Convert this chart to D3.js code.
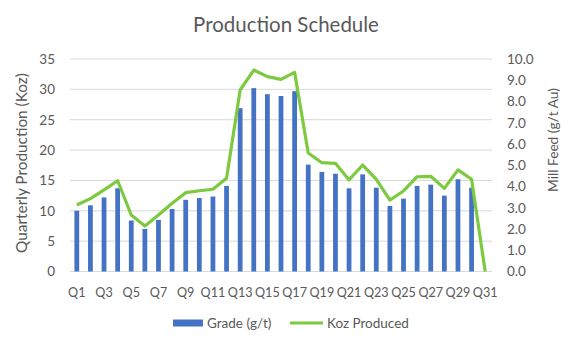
<!DOCTYPE html>
<html><head><meta charset="utf-8">
<script src="https://cdn.jsdelivr.net/npm/d3@7"></script>
<style>body{margin:0;background:#fff}svg{display:block}text{font-family:Lato,"Open Sans",sans-serif;fill:#595959}</style>
</head><body><svg id="c" width="580" height="340"></svg>
<script>
const categories = d3.range(1,32).map(i=>"Q"+i);
const grade = [10.0,10.9,12.2,13.7,8.4,7.0,8.5,10.3,11.8,12.1,12.35,14.1,26.9,30.2,29.2,28.9,29.7,17.6,16.4,16.1,13.7,16.0,13.8,10.8,12.0,14.1,14.3,12.5,15.2,13.8,0];
const kozProduced = [3.13,3.43,3.84,4.27,2.66,2.14,2.66,3.21,3.71,3.80,3.87,4.39,8.54,9.48,9.17,9.04,9.37,5.58,5.12,5.09,4.31,5.01,4.34,3.36,3.79,4.46,4.48,3.91,4.78,4.34,0];
const leftTicks = [0,5,10,15,20,25,30,35];
const rightTicks = [0,1,2,3,4,5,6,7,8,9,10];

const svg = d3.select("#c");
const m = {l:70, r:492, t:59, b:271.5};
const x = d3.scaleBand().domain(categories).range([m.l,m.r]).paddingInner(0.65).paddingOuter(0.325);
const yL = d3.scaleLinear().domain([0,35]).range([m.b,m.t]);
const yR = d3.scaleLinear().domain([0,10]).range([m.b,m.t]);

function fit(sel, w){
  const n = sel.node(); const len = n.getComputedTextLength();
  const fs = parseFloat(sel.style("font-size"));
  sel.style("font-size",(fs*w/len)+"px");
}

svg.append("g").selectAll("line").data(leftTicks).join("line")
  .attr("x1",m.l).attr("x2",m.r).attr("y1",d=>yL(d)).attr("y2",d=>yL(d))
  .attr("stroke","#d9d9d9").attr("stroke-width",1);

const axL = svg.append("g").attr("transform",`translate(${m.l-8},0)`)
  .call(d3.axisLeft(yL).tickValues(leftTicks).tickSize(0).tickPadding(7));
axL.select(".domain").remove();
axL.selectAll("text").style("font-size","13.5px").attr("fill","#595959");

const axR = svg.append("g").attr("transform",`translate(${m.r+9},0)`)
  .call(d3.axisRight(yR).tickValues(rightTicks).tickFormat(d3.format(".1f")).tickSize(0).tickPadding(6));
axR.select(".domain").remove();
axR.selectAll("text").style("font-size","13.5px").attr("fill","#595959");

const axX = svg.append("g").attr("transform",`translate(0,${m.b+11})`)
  .call(d3.axisBottom(x).tickValues(categories.filter((d,i)=>i%2===0)).tickSize(0).tickPadding(6));
axX.select(".domain").remove();
axX.selectAll("text").style("font-size","12.6px").attr("fill","#595959");

svg.append("g").selectAll("rect").data(grade).join("rect")
  .attr("x",(d,i)=>x(categories[i])).attr("width",x.bandwidth())
  .attr("y",d=>yL(d)).attr("height",d=>yL(0)-yL(d)).attr("fill","#4472c4");

const line = d3.line().x((d,i)=>x(categories[i])+x.bandwidth()/2).y(d=>yR(d));
svg.append("path").datum(kozProduced).attr("d",line)
  .attr("fill","none").attr("stroke","#7dc940").attr("stroke-width",3.2).attr("stroke-linejoin","round");

const t = svg.append("text").attr("x",286).attr("y",32).attr("text-anchor","middle")
  .style("font-size","20px").text("Production Schedule");
fit(t,186);

const tl = svg.append("text").attr("transform","translate(27,163) rotate(-90)").attr("text-anchor","middle")
  .style("font-size","14px").text("Quarterly Production (Koz)");
fit(tl,180);
const tr = svg.append("text").attr("transform","translate(558,140) rotate(-90)").attr("text-anchor","middle")
  .style("font-size","14px").text("Mill Feed (g/t Au)");
fit(tr,104);

const lg = svg.append("g");
lg.append("rect").attr("x",173).attr("y",319.5).attr("width",30).attr("height",7).attr("fill","#4472c4");
lg.append("text").attr("x",207).attr("y",328).style("font-size","13.5px").text("Grade (g/t)");
lg.append("line").attr("x1",290).attr("x2",323).attr("y1",323).attr("y2",323).attr("stroke","#7dc940").attr("stroke-width",3.2);
lg.append("text").attr("x",327).attr("y",328).style("font-size","13.5px").text("Koz Produced");
</script></body></html>
